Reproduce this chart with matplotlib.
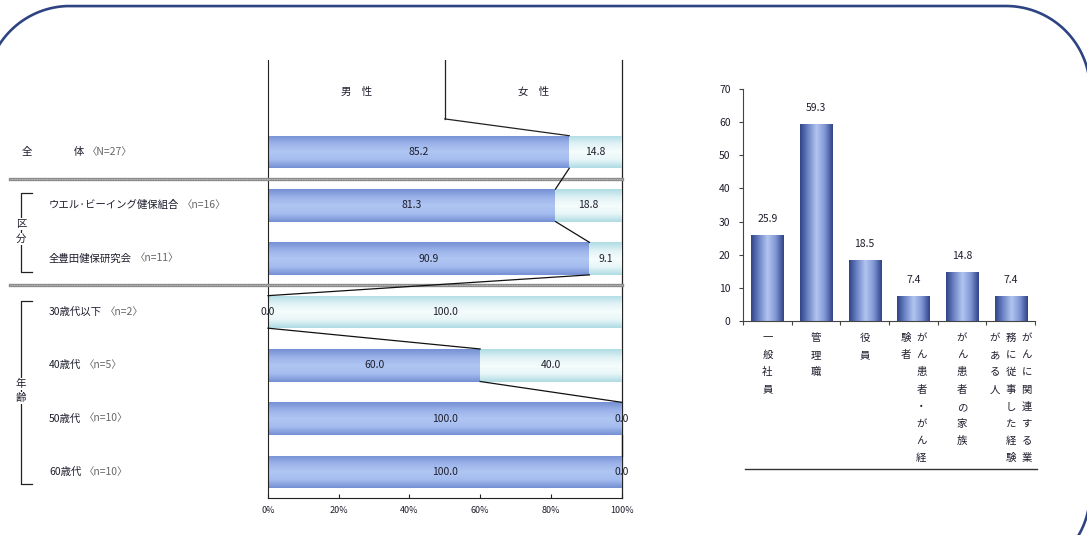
import numpy as np
import matplotlib.pyplot as plt
from matplotlib.colors import LinearSegmentedColormap
from matplotlib.lines import Line2D

plt.rcParams['font.family'] = ['Noto Sans CJK JP', 'DejaVu Sans']

###################### DATA #############################

row_names = ['全　　　　体', 'ウエル·ビーイング健保組合', '全豊田健保研究会',
             '30歳代以下', '40歳代', '50歳代', '60歳代']
row_n = ['〈N=27〉', '〈n=16〉', '〈n=11〉', '〈n=2〉', '〈n=5〉', '〈n=10〉', '〈n=10〉']
male = [85.2, 81.3, 90.9, 0.0, 60.0, 100.0, 100.0]
female = [14.8, 18.8, 9.1, 100.0, 40.0, 0.0, 0.0]
x_ticks = [0, 20, 40, 60, 80, 100]

# right chart: categories as vertical columns (right column read first)
cat_columns = [['一般社員'], ['管理職'], ['役員'],
               ['がん患者・がん経', '験者'], ['がん患者の家族'],
               ['がんに関連する業', '務に従事した経験', 'がある人']]
cat_values = [25.9, 59.3, 18.5, 7.4, 14.8, 7.4]
y_ticks = [0, 10, 20, 30, 40, 50, 60, 70]

W, H = 1087, 535
fs = 7.5
txt = '#1e1e2e'

male_cm = LinearSegmentedColormap.from_list('m', ['#7590d3', '#a4bcef', '#b0c6f3', '#9cb3ea', '#7590d3'])
fem_cm = LinearSegmentedColormap.from_list('f', ['#aedbe3', '#e8f6f8', '#f6fcfc', '#e0f2f5', '#aedbe3'])
col_cm = LinearSegmentedColormap.from_list('c', ['#2f4286', '#6f86c8', '#b3c5ef', '#8198d6', '#2f4286'])


def gradient_fill(ax, rect, cmap, vertical):
    x0, y0 = rect.get_x(), rect.get_y()
    w, h = rect.get_width(), rect.get_height()
    if w == 0 or h == 0:
        return
    g = np.linspace(0, 1, 128)
    g = g.reshape(-1, 1) if vertical else g.reshape(1, -1)
    im = ax.imshow(g, cmap=cmap, aspect='auto', extent=(x0, x0 + w, y0, y0 + h),
                   interpolation='bicubic', zorder=1)
    im.set_clip_path(rect)
    rect.set_facecolor('none')


fig = plt.figure(figsize=(W / 100, H / 100), dpi=100)

###################### LEFT CHART #############################

ax = fig.add_axes([268 / W, 1 - 498 / H, 353.6 / W, 438 / H])
rows = np.arange(len(male))
bh = 0.61
mb = ax.barh(rows, [m / 100 for m in male], height=bh, color='#8fa8e2', linewidth=0, zorder=1)
fb = ax.barh(rows, [f / 100 for f in female], left=[m / 100 for m in male], height=bh,
             color='#d8eff3', linewidth=0, zorder=1)
for r in mb:
    gradient_fill(ax, r, male_cm, True)
for r in fb:
    gradient_fill(ax, r, fem_cm, True)

ax.set_xlim(0, 1)
ax.set_ylim(6.49, -1.725)

for i in rows:
    m, f = male[i], female[i]
    if m > 0:
        ax.text(m / 200, i, f'{m:.1f}', ha='center', va='center', fontsize=fs, color=txt, zorder=5)
    else:
        ax.text(0, i, f'{m:.1f}', ha='center', va='center', fontsize=fs, color=txt, zorder=5)
    if f > 0:
        ax.text((m + f / 2) / 100, i, f'{f:.1f}', ha='center', va='center', fontsize=fs, color=txt, zorder=5)
    else:
        ax.text(1.0, i, f'{f:.1f}', ha='center', va='center', fontsize=fs, color=txt, zorder=5)

# connecting lines between segment boundaries
for i in range(len(male) - 1):
    ax.plot([male[i] / 100, male[i + 1] / 100], [i + bh / 2, i + 1 - bh / 2],
            color='#111111', lw=0.9, zorder=4, clip_on=False)

# header
ax.plot([0.5, 0.5], [-1.725, -0.62], color='#222222', lw=0.9)
ax.plot([0.5, male[0] / 100], [-0.62, -bh / 2], color='#222222', lw=0.9)
ax.text(0.25, -1.125, '男　性', ha='center', va='center', fontsize=fs, color=txt)
ax.text(0.75, -1.125, '女　性', ha='center', va='center', fontsize=fs, color=txt)
ax.plot([1.0, 1.0], [-1.725, 6.49], color='#222222', lw=0.9, zorder=0.5, clip_on=False)

# separators
for ys in [0.5, 2.5]:
    ax.plot([(10 - 268) / 353.6, 1.0], [ys, ys], color='#8c8c8c', lw=2.4, clip_on=False, zorder=3)
    ax.plot([(10 - 268) / 353.6, 1.0], [ys, ys], color='#d0d0d0', lw=0.6, clip_on=False, zorder=3,
            ls=(0, (1, 1)))

for s in ['top', 'right']:
    ax.spines[s].set_visible(False)
ax.spines['left'].set_color('#222222')
ax.spines['bottom'].set_color('#222222')
ax.set_xticks([t / 100 for t in x_ticks])
ax.set_xticklabels([f'{t}%' for t in x_ticks], fontsize=6.5, color=txt)
ax.tick_params(axis='x', direction='in', length=3, pad=6, colors='#222222', labelcolor=txt)
ax.set_yticks([])

# row labels
for i in rows:
    x0 = 22 if i == 0 else 49
    t = ax.text((x0 - 268) / 353.6, i, row_names[i], ha='left', va='center',
                fontsize=fs, color=txt)
    ax.annotate(row_n[i], xy=(1, 0.5), xycoords=t, xytext=(2, 0), textcoords='offset points',
                ha='left', va='center', fontsize=fs, color='#666666')

# brackets
def bracket(y_top, y_bot, chars, y_chars):
    xl = (21 - 268) / 353.6
    xr = (32 - 268) / 353.6
    ax.plot([xr, xl, xl, xr], [y_top, y_top, y_bot, y_bot], color='#222222', lw=0.9, clip_on=False)
    for c, yc in zip(chars, y_chars):
        ax.text(xl, yc, c, ha='center', va='center', fontsize=fs, color=txt,
                bbox=dict(facecolor='white', edgecolor='none', pad=0.5))

bracket((193 - 152) / 53.33, (272 - 152) / 53.33, '区分',
        [(224 - 152) / 53.33, (239 - 152) / 53.33])
bracket((301 - 152) / 53.33, (484 - 152) / 53.33, '年齢',
        [(384 - 152) / 53.33, (398 - 152) / 53.33])

###################### RIGHT CHART #############################

ax2 = fig.add_axes([743 / W, 1 - 321 / H, 292 / W, 232 / H])
xs = np.arange(len(cat_values))
cb = ax2.bar(xs, cat_values, width=0.66, color='#6f86c8', linewidth=0, zorder=1)
for r in cb:
    gradient_fill(ax2, r, col_cm, False)
ax2.set_xlim(-0.5, len(cat_values) - 0.5)
ax2.set_ylim(0, 70)
for x, v in zip(xs, cat_values):
    ax2.annotate(f'{v:.1f}', xy=(x, v), xytext=(0, 8), textcoords='offset points',
                 ha='center', va='bottom', fontsize=fs, color=txt)

ax2.set_yticks(y_ticks)
ax2.set_yticklabels([str(t) for t in y_ticks], fontsize=fs, color=txt)
ax2.set_xticks(np.arange(len(cat_values) + 1) - 0.5)
ax2.set_xticklabels([])
ax2.tick_params(axis='y', length=3, pad=6, colors='#444444', labelcolor=txt)
ax2.tick_params(axis='x', length=3, colors='#444444')
for s in ['top', 'right']:
    ax2.spines[s].set_visible(False)
ax2.spines['left'].set_color('#444444')
ax2.spines['bottom'].set_color('#444444')

# vertical category labels
px = 0.72  # points per pixel
for x, cols in zip(xs, cat_columns):
    n = len(cols)
    for j, col in enumerate(cols):
        dx = ((n - 1) / 2 - j) * 16
        for k, ch in enumerate(col):
            ax2.annotate(ch, xy=(x, 0), xycoords=ax2.get_xaxis_transform(),
                         xytext=(dx * px, -(17 + k * 17.2) * px), textcoords='offset points',
                         ha='center', va='center', fontsize=fs, color=txt)

ax2.plot([0.007, 1.007], [(321 - 469) / 232] * 2, transform=ax2.transAxes,
         color='#333333', lw=1.0, clip_on=False)

# outer rounded frame, built in pixel space then mapped to figure fraction
L, T, R, B, rad = -14, 6, 1090, 577, 84
t = np.linspace(0, np.pi / 2, 40)
fx, fy = [], []
for cx, cy, a0 in [(R - rad, T + rad, 0), (L + rad, T + rad, np.pi / 2),
                   (L + rad, B - rad, np.pi), (R - rad, B - rad, 1.5 * np.pi)]:
    fx.extend(cx + rad * np.cos(a0 + t))
    fy.extend(cy - rad * np.sin(a0 + t))
fx.append(fx[0])
fy.append(fy[0])
fig.add_artist(Line2D(np.array(fx) / W, 1 - np.array(fy) / H, transform=fig.transFigure,
                      color='#2e4482', lw=1.9))

fig.savefig('out.png', dpi=100)
